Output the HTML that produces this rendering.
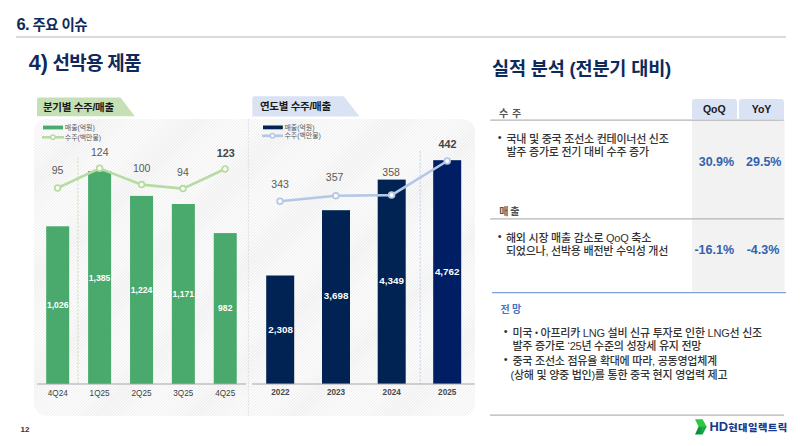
<!DOCTYPE html>
<html lang="ko">
<head>
<meta charset="utf-8">
<style>
*{margin:0;padding:0;box-sizing:border-box}
html,body{width:800px;height:446px;overflow:hidden;background:#fff}
body{position:relative;font-family:"Liberation Sans","Noto Sans CJK KR",sans-serif;color:#333}
.a{position:absolute;white-space:nowrap}
.navy{color:#0e2a5a}
#h1{left:16.5px;top:10.5px;font-size:14.5px;font-weight:700;letter-spacing:-0.6px;line-height:26px}
#hline{left:16.3px;top:36.4px;width:770px;height:1.4px;background:#dadada}
#h2{left:28.7px;top:48.2px;font-size:19px;font-weight:700;letter-spacing:-0.7px;line-height:30px}
#h3{left:492px;top:54px;font-size:18.6px;font-weight:700;letter-spacing:-0.2px;line-height:30px}
.hatch{position:absolute;left:33.8px;top:118.7px;width:440.8px;height:297.4px;border-radius:13px;
 background:repeating-linear-gradient(135deg,#fcfcfc 0px,#fcfcfc 0.95px,#efefef 1.15px,#efefef 1.85px,#fcfcfc 2.1px)}
.tab{position:absolute;height:19.5px;font-size:10.5px;font-weight:700;color:#1a1a1a;line-height:19.5px;padding-left:7px;letter-spacing:-0.3px}
svg text{font-family:"Liberation Sans","Noto Sans CJK KR",sans-serif}
.lg{font-size:6.9px;fill:#595959}
.vl{font-size:10.5px;fill:#595959}
.vb{font-size:10.8px;fill:#444;font-weight:700}
.bl{font-size:8.6px;fill:#fff;font-weight:700}
.bl2{font-size:9.8px;fill:#fff;font-weight:700}
.ax{font-size:8.2px;fill:#404040}
.sec{font-size:10px;color:#555;font-weight:700;letter-spacing:0.5px}
.txt{font-size:11px;font-weight:500;color:#333;letter-spacing:-0.25px;line-height:13px}
.pct{font-size:12.5px;font-weight:700;color:#3162ad}
.hd{position:absolute;height:20.2px;background:#dae3f3;border-radius:3px 3px 0 0;font-size:10.5px;font-weight:700;color:#1a1a1a;text-align:center;line-height:21px}
</style>
</head>
<body>
<div class="a navy" id="h1"><span style="font-size:16.5px">6.</span> 주요 이슈</div>
<div class="a" id="hline"></div>
<div class="a navy" id="h2"><span style="font-size:21.5px;letter-spacing:0">4)</span> 선박용 제품</div>
<div class="a navy" id="h3">실적 분석 (전분기 대비)</div>

<div class="hatch"></div>

<svg class="a" style="left:0;top:0" width="800" height="446">
  <!-- tabs -->
  <path d="M37 99.8 Q37 97.6 39.2 97.6 L120.5 97.6 L134.7 116.3 L37 116.3 Z" fill="#c5e0b4"/>
  <path d="M252.3 98.5 Q252.3 96.3 254.5 96.3 L343.8 96.3 L359.5 116.5 L252.3 116.5 Z" fill="#dae3f3"/>
  <line x1="248.4" y1="119" x2="248.4" y2="416" stroke="#dcdcdc" stroke-width="0.8" stroke-dasharray="2.4 1.2"/>

  <!-- LEFT CHART -->
  <rect x="43" y="125.6" width="20" height="3.8" fill="#4aa96c"/>
  <text class="lg" x="64.8" y="130.2">매출(억원)</text>
  <line x1="42" y1="137.3" x2="64" y2="137.3" stroke="#b8dba3" stroke-width="2.6"/>
  <circle cx="52.9" cy="137.3" r="2.2" fill="#fff" stroke="#b8dba3" stroke-width="1.5"/>
  <text class="lg" x="64.8" y="139.6">수주(백만불)</text>

  <line x1="77.9" y1="157" x2="77.9" y2="384" stroke="#c5e0b4" stroke-width="0.9" stroke-dasharray="2.4 1.4"/>
  <g fill="#4aa96c">
    <rect x="46.2" y="226.3" width="23" height="157.7"/>
    <rect x="88.1" y="171.1" width="23" height="212.9"/>
    <rect x="130.05" y="195.9" width="23" height="188.1"/>
    <rect x="171.85" y="204" width="23" height="180"/>
    <rect x="213.75" y="233.1" width="23" height="150.9"/>
  </g>
  <line x1="37.2" y1="384" x2="246" y2="384" stroke="#a6a6a6" stroke-width="1"/>
  <g class="bl" text-anchor="middle">
    <text x="57.7" y="308.2">1,026</text>
    <text x="99.6" y="280.6">1,385</text>
    <text x="141.55" y="293">1,224</text>
    <text x="183.35" y="297">1,171</text>
    <text x="225.25" y="311">982</text>
  </g>
  <polyline points="57.6,188 99.6,168.3 141.6,184.6 183,188.6 225,169" fill="none" stroke="#b8dba3" stroke-width="2.6"/>
  <g fill="#fff" stroke="#b8dba3" stroke-width="1.8">
    <circle cx="57.6" cy="188" r="2.85"/>
    <circle cx="99.6" cy="168.3" r="2.85"/>
    <circle cx="141.6" cy="184.6" r="2.85"/>
    <circle cx="183" cy="188.6" r="2.85"/>
    <circle cx="225" cy="169" r="2.85"/>
  </g>
  <g class="vl" text-anchor="middle">
    <text x="57.6" y="174.4">95</text>
    <text x="99.8" y="155.8">124</text>
    <text x="141.7" y="172">100</text>
    <text x="182.9" y="175.5">94</text>
  </g>
  <text class="vb" text-anchor="middle" x="225.7" y="156.8">123</text>
  <g class="ax" text-anchor="middle">
    <text x="57.8" y="395.7">4Q24</text>
    <text x="99.6" y="395.7">1Q25</text>
    <text x="141.5" y="395.7">2Q25</text>
    <text x="183.3" y="395.7">3Q25</text>
    <text x="225.2" y="395.7">4Q25</text>
  </g>

  <!-- RIGHT CHART -->
  <rect x="263" y="125.5" width="19.8" height="3.8" fill="#002353"/>
  <text class="lg" x="284.5" y="130.2">매출(억원)</text>
  <line x1="262" y1="135.8" x2="283" y2="135.8" stroke="#b4c7e7" stroke-width="2.6"/>
  <circle cx="272.5" cy="135.8" r="2.2" fill="#fff" stroke="#b4c7e7" stroke-width="1.5"/>
  <text class="lg" x="284.5" y="138.2">수주(백만불)</text>

  <line x1="420.2" y1="151" x2="420.2" y2="384" stroke="#c0d0ec" stroke-width="0.9" stroke-dasharray="2.4 1.4"/>
  <rect x="266.2" y="275.5" width="28" height="108.5" fill="#002353"/>
  <rect x="322" y="210.2" width="28" height="173.8" fill="#002353"/>
  <rect x="377.7" y="179.6" width="28" height="204.4" fill="#002353"/>
  <rect x="433.2" y="160.2" width="28" height="223.8" fill="#001e63"/>
  <line x1="252.2" y1="384" x2="474.7" y2="384" stroke="#a6a6a6" stroke-width="1"/>
  <g class="bl2" text-anchor="middle">
    <text x="280.6" y="332.6">2,308</text>
    <text x="336.1" y="299.2">3,698</text>
    <text x="391.6" y="284.3">4,349</text>
    <text x="447.2" y="274.5">4,762</text>
  </g>
  <polyline points="280,201.3 335.8,195.7 391.6,195.1 447.2,161" fill="none" stroke="#b4c7e7" stroke-width="2.6"/>
  <g fill="#fff" stroke="#b4c7e7" stroke-width="1.8">
    <circle cx="280" cy="201.3" r="2.85"/>
    <circle cx="335.8" cy="195.7" r="2.85"/>
    <circle cx="391.6" cy="195.1" r="2.85"/>
    <circle cx="447.2" cy="161" r="2.85"/>
  </g>
  <g class="vl" text-anchor="middle">
    <text x="280.1" y="187.5">343</text>
    <text x="334.6" y="180.9">357</text>
    <text x="391.1" y="176.2">358</text>
  </g>
  <text class="vb" text-anchor="middle" x="447.5" y="147.6">442</text>
  <g class="ax" text-anchor="middle" style="font-weight:700;fill:#4a4a4a">
    <text x="280.4" y="395">2022</text>
    <text x="336" y="395">2023</text>
    <text x="391.7" y="395">2024</text>
    <text x="447.2" y="395">2025</text>
  </g>

  <!-- right panel lines -->
  <rect x="692" y="120" width="92.6" height="171.5" fill="#f2f2f2"/>
  <line x1="490.2" y1="120.2" x2="783.7" y2="120.2" stroke="#b4b4b4" stroke-width="1.3"/>
  <line x1="490.2" y1="218.8" x2="783.7" y2="218.8" stroke="#b4b4b4" stroke-width="1.3"/>
  <line x1="492" y1="292.7" x2="786" y2="292.7" stroke="#7d9ed8" stroke-width="1.3"/>
  <line x1="490" y1="415.2" x2="784" y2="415.2" stroke="#b4b4b4" stroke-width="1.3"/>

  <!-- logo chevron -->
  <defs><linearGradient id="lg1" x1="0" y1="0" x2="1" y2="0"><stop offset="0.35" stop-color="#0c8f3b"/><stop offset="0.6" stop-color="#14ab45"/></linearGradient></defs>
  <polygon points="695,419.2 702.6,419.2 706.85,427.1 698.75,427.1" fill="#2cc743"/>
  <polygon points="698.6,426.8 706.7,426.8 702.6,434.6 695,434.6" fill="url(#lg1)"/>
</svg>

<div class="tab" style="left:36px;top:98px">분기별 수주/매출</div>
<div class="tab" style="left:253px;top:97px">연도별 수주/매출</div>

<!-- right panel -->
<div class="hd" style="left:691.7px;top:99px;width:45.3px">QoQ</div>
<div class="hd" style="left:739px;top:99px;width:45px">YoY</div>
<div class="a sec" style="left:499px;top:104.6px">수 주</div>
<div class="a txt" style="left:497.8px;top:130.6px">•</div>
<div class="a txt" style="left:506.5px;top:132.6px">국내 및 중국 조선소 컨테이너선 신조</div>
<div class="a txt" style="left:506.5px;top:146.1px">발주 증가로 전기 대비 수주 증가</div>
<div class="a pct" style="left:698.7px;top:154.5px">30.9%</div>
<div class="a pct" style="left:746px;top:154.5px">29.5%</div>
<div class="a sec" style="left:499.3px;top:203px;word-spacing:-2px">매 출</div>
<div class="a txt" style="left:497.8px;top:229.6px">•</div>
<div class="a txt" style="left:506px;top:231.6px">해외 시장 매출 감소로 QoQ 축소</div>
<div class="a txt" style="left:506px;top:244.6px">되었으나, 선박용 배전반 수익성 개선</div>
<div class="a pct" style="left:694.4px;top:243px">-16.1%</div>
<div class="a pct" style="left:746.7px;top:243px">-4.3%</div>
<div class="a sec" style="left:500.6px;top:301.2px;color:#4472c4;font-weight:700;word-spacing:-1.5px">전 망</div>
<div class="a txt" style="left:503.8px;top:324.6px">•</div>
<div class="a txt" style="left:512.5px;top:326.6px">미국 <span style="font-size:8.5px;position:relative;top:-0.6px">•</span> 아프리카 LNG 설비 신규 투자로 인한 LNG선 신조</div>
<div class="a txt" style="left:512.5px;top:340.1px">발주 증가로 ‘25년 수준의 성장세 유지 전망</div>
<div class="a txt" style="left:503.8px;top:353.1px">•</div>
<div class="a txt" style="left:512.5px;top:355.1px">중국 조선소 점유율 확대에 따라, 공동영업체계</div>
<div class="a txt" style="left:510.5px;top:368.6px">(상해 및 양중 법인)를 통한 중국 현지 영업력 제고</div>

<div class="a" style="left:20.5px;top:425px;font-size:8px;font-weight:700;color:#333">12</div>
<div class="a" style="left:709.5px;top:418px;font-weight:700;color:#17398c;line-height:16px"><span style="font-size:12.9px">HD</span><span style="display:inline-block;font-size:10.3px;font-weight:900;letter-spacing:0.45px;transform:scale(1,0.9);transform-origin:0 60%">현대일렉트릭</span></div>
</body>
</html>
